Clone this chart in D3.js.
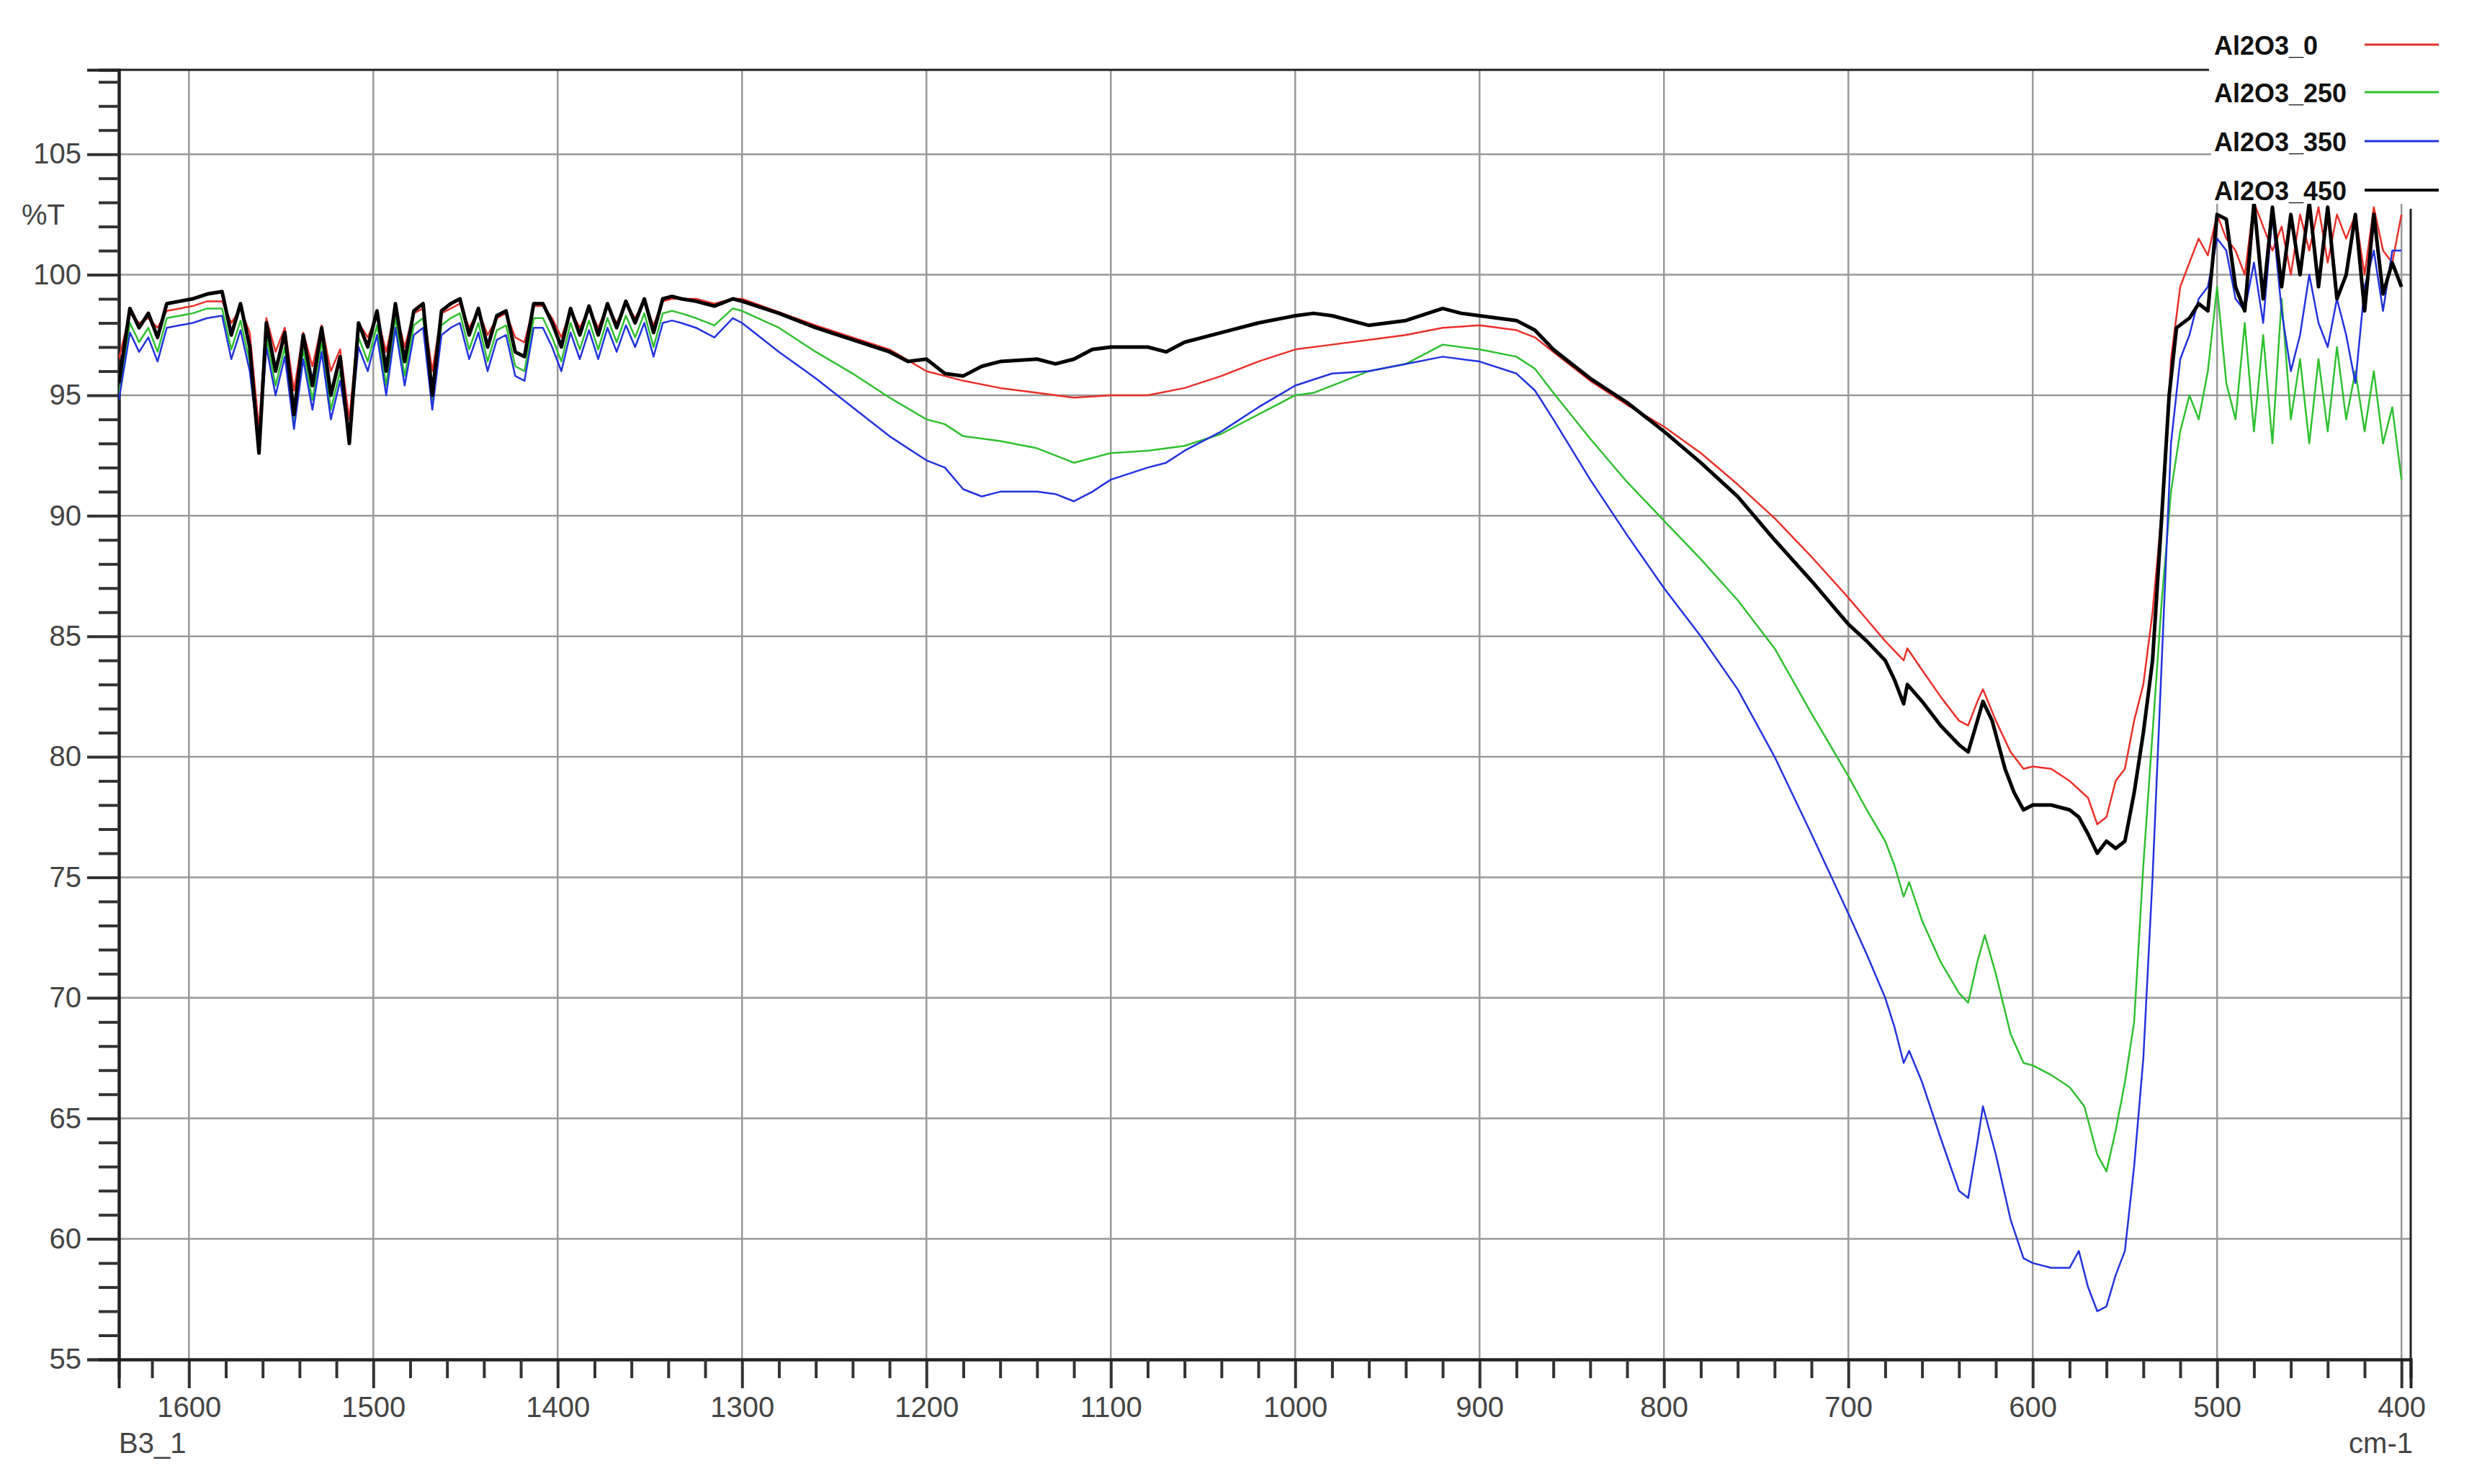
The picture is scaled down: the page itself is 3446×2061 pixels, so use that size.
<!DOCTYPE html>
<html><head><meta charset="utf-8">
<script src="https://cdn.jsdelivr.net/npm/d3@7"></script>
<style>body{margin:0;background:#fff}svg{display:block}</style>
</head><body>
<svg id="chart" width="3446" height="2061"></svg>
<script>
// noisy region, 1638 -> 1300 cm-1
const waveA = [1638,1632,1627,1622,1617,1612,1605,1598,1590,1582,1577,1572,1567,1562,1558,1553,1548,1543,1538,1533,1528,1523,1518,1513,1508,1503,1498,1493,1488,1483,1478,1473,1468,1463,1458,1453,1448,1443,1438,1433,1428,1423,1418,1413,1408,1403,1398,1393,1388,1383,1378,1373,1368,1363,1358,1353,1348,1343,1338,1333,1325,1315,1305];
const blackA = [95.5,98.6,97.8,98.4,97.4,98.8,98.9,99.0,99.2,99.3,97.5,98.8,97.0,92.6,98.0,96.0,97.6,94.2,97.5,95.4,97.8,95.0,96.6,93.0,98.0,97.0,98.5,96.0,98.8,96.4,98.5,98.8,95.0,98.5,98.8,99.0,97.5,98.6,97.0,98.3,98.5,96.8,96.6,98.8,98.8,98.0,97.0,98.6,97.5,98.7,97.5,98.8,97.8,98.9,98.0,99.0,97.6,99.0,99.1,99.0,98.9,98.7,99.0];
const redA =   [96.5,98.4,98.0,98.2,97.8,98.5,98.6,98.7,98.9,98.9,98.0,98.6,97.6,93.6,98.2,96.8,97.8,95.2,97.6,96.2,97.9,96.0,96.9,94.0,98.0,97.4,98.3,96.8,98.6,97.0,98.4,98.6,96.0,98.4,98.6,98.8,97.8,98.5,97.5,98.2,98.4,97.4,97.2,98.7,98.7,98.2,97.4,98.5,97.8,98.6,97.8,98.7,98.0,98.8,98.2,98.9,97.9,98.9,99.0,99.0,99.0,98.8,99.0];
const greenA = [95.0,98.0,97.2,97.8,96.8,98.2,98.3,98.4,98.6,98.6,96.9,98.1,96.4,92.8,97.4,95.4,97.0,93.8,96.9,94.8,97.2,94.4,96.0,93.2,97.4,96.4,97.9,95.4,98.2,95.8,97.9,98.2,94.6,97.9,98.2,98.4,96.9,98.0,96.4,97.7,97.9,96.2,96.0,98.2,98.2,97.4,96.4,98.0,96.9,98.1,96.9,98.2,97.2,98.3,97.4,98.4,97.0,98.4,98.5,98.4,98.2,97.9,98.6];
const blueA =  [94.8,97.6,96.8,97.4,96.4,97.8,97.9,98.0,98.2,98.3,96.5,97.7,96.0,92.8,97.0,95.0,96.6,93.6,96.5,94.4,96.8,94.0,95.6,93.2,97.0,96.0,97.5,95.0,97.8,95.4,97.5,97.8,94.4,97.5,97.8,98.0,96.5,97.6,96.0,97.3,97.5,95.8,95.6,97.8,97.8,97.0,96.0,97.6,96.5,97.7,96.5,97.8,96.8,97.9,97.0,98.0,96.6,98.0,98.1,98.0,97.8,97.4,98.2];

const waveBlackB = [1300,1280,1260,1240,1220,1210,1200,1190,1180,1170,1160,1140,1130,1120,1110,1100,1080,1070,1060,1040,1020,1000,990,980,960,940,920,910,900,880,870,860,840,820,800,780,760,740,720,700,690,680,675,670,668,660,650,640,635,630,627,622,615,610,605,600,590,580,575,570,565,560,555,550,545,540,535,530,526,522,515,510,505,500,495,490,485,480,475,470,465,460,455,450,445,440,435,430,425,420,415,410,405,400];
const blackB = [98.9,98.4,97.8,97.3,96.8,96.4,96.5,95.9,95.8,96.2,96.4,96.5,96.3,96.5,96.9,97.0,97.0,96.8,97.2,97.6,98.0,98.3,98.4,98.3,97.9,98.1,98.6,98.4,98.3,98.1,97.7,96.9,95.7,94.7,93.5,92.2,90.8,89.0,87.3,85.5,84.8,84.0,83.2,82.2,83.0,82.3,81.3,80.5,80.2,81.5,82.3,81.5,79.5,78.5,77.8,78.0,78.0,77.8,77.5,76.8,76.0,76.5,76.2,76.5,78.5,81.0,84.0,90.0,95.0,97.8,98.2,98.8,98.5,102.5,102.3,99.5,98.5,103.0,99.0,102.8,99.5,102.5,100.0,103.0,99.5,102.8,99.0,100.0,102.5,98.5,102.5,99.2,100.5,99.5];

const waveRedB = [1300,1260,1220,1200,1180,1160,1140,1120,1100,1080,1060,1040,1020,1000,980,960,940,920,900,880,870,860,840,820,800,780,760,740,720,700,690,680,670,668,660,650,640,635,630,627,620,612,605,600,590,580,570,565,560,555,550,545,540,535,532,528,525,520,515,510,505,500,495,490,485,480,470,465,460,455,450,445,440,435,430,425,420,415,410,405,400];
const redB = [99.0,97.9,96.9,96.0,95.6,95.3,95.1,94.9,95.0,95.0,95.3,95.8,96.4,96.9,97.1,97.3,97.5,97.8,97.9,97.7,97.4,96.8,95.6,94.6,93.7,92.6,91.3,89.9,88.3,86.6,85.7,84.8,84.0,84.5,83.6,82.5,81.5,81.3,82.3,82.8,81.5,80.2,79.5,79.6,79.5,79.0,78.3,77.2,77.5,79.0,79.5,81.5,83.0,86.0,88.5,92.0,96.5,99.5,100.5,101.5,100.8,102.5,101.5,101.0,100.0,103.0,101.0,102.0,100.0,102.5,101.0,102.8,100.5,102.5,101.5,102.5,100.0,102.8,101.0,100.5,102.5];

const waveGreenB = [1300,1280,1260,1240,1220,1200,1190,1180,1160,1140,1120,1100,1080,1060,1040,1020,1000,990,980,960,940,920,900,880,870,860,840,820,800,780,760,740,720,700,690,680,675,670,667,660,650,640,635,630,626,620,612,605,600,590,580,572,565,560,555,550,545,540,535,530,525,520,515,510,505,500,495,490,485,480,475,470,465,460,455,450,445,440,435,430,425,420,415,410,405,400];
const greenB = [98.5,97.8,96.8,95.9,94.9,94.0,93.8,93.3,93.1,92.8,92.2,92.6,92.7,92.9,93.4,94.2,95.0,95.1,95.4,96.0,96.3,97.1,96.9,96.6,96.1,95.1,93.2,91.4,89.8,88.2,86.5,84.5,81.8,79.2,77.8,76.5,75.5,74.2,74.8,73.2,71.5,70.2,69.8,71.5,72.6,71.0,68.5,67.3,67.2,66.8,66.3,65.5,63.5,62.8,64.5,66.5,69.0,75.5,81.0,86.5,91.0,93.5,95.0,94.0,96.0,99.5,95.5,94.0,98.0,93.5,97.5,93.0,99.0,94.0,96.5,93.0,96.5,93.5,97.0,94.0,96.0,93.5,96.0,93.0,94.5,91.5];

const waveBlueB = [1300,1280,1260,1240,1220,1200,1190,1180,1170,1160,1140,1130,1120,1110,1100,1080,1070,1060,1040,1020,1000,980,960,940,920,900,880,870,860,840,820,800,780,760,740,720,700,690,680,675,670,667,660,650,640,635,630,627,620,612,605,600,590,580,575,570,565,560,555,550,545,540,535,530,525,520,515,510,505,500,495,490,485,480,475,470,465,460,455,450,445,440,435,430,425,420,415,410,405,400];
const blueB = [98.0,96.8,95.7,94.5,93.3,92.3,92.0,91.1,90.8,91.0,91.0,90.9,90.6,91.0,91.5,92.0,92.2,92.7,93.5,94.5,95.4,95.9,96.0,96.3,96.6,96.4,95.9,95.2,94.0,91.5,89.2,87.0,85.0,82.8,80.0,76.8,73.5,71.8,70.0,68.8,67.3,67.8,66.5,64.2,62.0,61.7,64.0,65.5,63.5,60.8,59.2,59.0,58.8,58.8,59.5,58.0,57.0,57.2,58.5,59.5,63.0,67.5,75.0,84.0,93.0,96.5,97.5,99.0,99.5,101.5,101.0,99.0,98.5,100.5,98.0,102.5,98.5,96.0,97.5,100.0,98.0,97.0,99.0,97.5,95.5,99.5,101.0,98.5,101.0,101.0];

const seriesNames = ["Al2O3_0", "Al2O3_250", "Al2O3_350", "Al2O3_450"];
const seriesColors = ["#e8302a", "#2fc02f", "#2233dd", "#000000"];
const xTicks = [1600,1500,1400,1300,1200,1100,1000,900,800,700,600,500,400];
const yTicks = [55,60,65,70,75,80,85,90,95,100,105];

const join = (wa, va, wb, vb) => wa.map((w, i) => [w, va[i]]).concat(wb.map((w, i) => [w, vb[i]]).filter(d => d[0] < 1305));
const series = [
  join(waveA, redA, waveRedB, redB),
  join(waveA, greenA, waveGreenB, greenB),
  join(waveA, blueA, waveBlueB, blueB),
  join(waveA, blackA, waveBlackB, blackB)
];

const svg = d3.select("#chart");
const L = 165, R = 3347, T = 97, B = 1888;
const x = d3.scaleLinear().domain([1638, 395]).range([L, R]);
const y = d3.scaleLinear().domain([55, 108.5]).range([B, T]);
const tickFont = "'Liberation Sans Narrow', 'Liberation Sans', Arial, sans-serif";

// grid
svg.append("g").selectAll("line").data(xTicks).join("line")
  .attr("x1", d => x(d)).attr("x2", d => x(d)).attr("y1", T).attr("y2", B)
  .attr("stroke", "#999").attr("stroke-width", 2.5);
svg.append("g").selectAll("line").data(yTicks.slice(1)).join("line")
  .attr("x1", L).attr("x2", R).attr("y1", d => y(d)).attr("y2", d => y(d))
  .attr("stroke", "#999").attr("stroke-width", 2.5);

// frame
svg.append("line").attr("x1", L).attr("x2", 3067).attr("y1", T).attr("y2", T).attr("stroke", "#222").attr("stroke-width", 3);
svg.append("line").attr("x1", R).attr("x2", R).attr("y1", 290).attr("y2", B).attr("stroke", "#222").attr("stroke-width", 3);

// axes
svg.append("g").attr("transform", `translate(${L},0)`)
  .call(d3.axisLeft(y).tickValues(yTicks).tickSize(44).tickPadding(8).tickFormat(d3.format("d")));
svg.append("g").attr("transform", `translate(${L},0)`)
  .call(d3.axisLeft(y).tickValues(d3.range(55, 109, 1).filter(v => v % 5)).tickSize(28).tickFormat(""));
svg.append("g").attr("transform", `translate(0,${B})`)
  .call(d3.axisBottom(x).tickValues(xTicks).tickSize(40).tickPadding(12).tickFormat(d3.format("d")));
svg.append("g").attr("transform", `translate(0,${B})`)
  .call(d3.axisBottom(x).tickValues(d3.range(400, 1640, 20).filter(v => v % 100)).tickSize(26).tickFormat(""));
svg.selectAll(".domain").attr("stroke", "#222").attr("stroke-width", 4);
svg.selectAll(".tick line").attr("stroke", "#333").attr("stroke-width", 4);
svg.selectAll(".tick text").attr("font-family", tickFont).attr("font-size", 40).attr("fill", "#444");

svg.append("text").attr("x", 30).attr("y", y(102.5) + 14).text("%T")
  .attr("font-family", tickFont).attr("font-size", 40).attr("fill", "#444");
svg.append("text").attr("x", 165).attr("y", 2018).text("B3_1")
  .attr("font-family", tickFont).attr("font-size", 40).attr("fill", "#444");
svg.append("text").attr("x", 3350).attr("y", 2018).attr("text-anchor", "end").text("cm-1")
  .attr("font-family", tickFont).attr("font-size", 40).attr("fill", "#444");

// lines
svg.append("clipPath").attr("id", "clip").append("rect").attr("x", L).attr("y", T).attr("width", R - L).attr("height", B - T);
const line = d3.line().x(d => x(d[0])).y(d => y(d[1]));
svg.append("g").attr("clip-path", "url(#clip)").selectAll("path").data(series).join("path")
  .attr("d", line).attr("fill", "none")
  .attr("stroke", (d, i) => seriesColors[i])
  .attr("stroke-width", (d, i) => i === 3 ? 5 : 2.5)
  .attr("stroke-linejoin", "round");

// legend
const lg = svg.append("g");
const rows = [62, 128, 196, 264];
lg.append("rect").attr("x", 3070).attr("y", 25).attr("width", 330).attr("height", 258).attr("fill", "#fff");
seriesNames.forEach((n, i) => {
  lg.append("text").attr("x", 3074).attr("y", rows[i] + 14).text(n)
    .attr("font-family", "'Liberation Sans', Arial, sans-serif").attr("font-weight", "bold")
    .attr("font-size", 36).attr("fill", "#111");
  lg.append("line").attr("x1", 3283).attr("x2", 3386).attr("y1", rows[i]).attr("y2", rows[i])
    .attr("stroke", seriesColors[i]).attr("stroke-width", i === 3 ? 4 : 3);
});
</script>
</body></html>
